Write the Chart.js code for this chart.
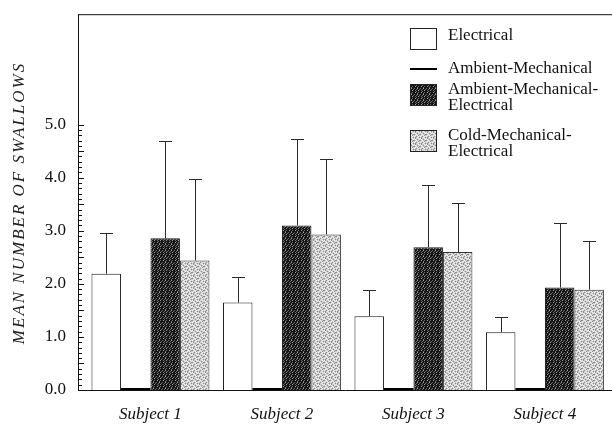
<!DOCTYPE html>
<html>
<head>
<meta charset="utf-8">
<script src="https://cdn.jsdelivr.net/npm/chart.js@4.4.0/dist/chart.umd.min.js"></script>
<style>
  html, body { margin: 0; padding: 0; background: #fff; }
</style>
</head>
<body>
<canvas id="chart" width="612" height="424"></canvas>
<script>
// ── Data ────────────────────────────────────────────────────────────────────
const categories = ['Subject 1', 'Subject 2', 'Subject 3', 'Subject 4'];
const seriesNames = ['Electrical', 'Ambient-Mechanical', 'Ambient-Mechanical-Electrical', 'Cold-Mechanical-Electrical'];
const legendLines = [['Electrical'], ['Ambient-Mechanical'], ['Ambient-Mechanical-', 'Electrical'], ['Cold-Mechanical-', 'Electrical']];

const electrical = [2.19, 1.65, 1.39, 1.09];
const electricalErr = [0.77, 0.48, 0.49, 0.28];
const ambientMech = [0.04, 0.04, 0.04, 0.04];
const ambientMechElec = [2.86, 3.10, 2.69, 1.93];
const ambientMechElecErr = [1.83, 1.63, 1.18, 1.22];
const coldMechElec = [2.44, 2.93, 2.60, 1.89];
const coldMechElecErr = [1.54, 1.43, 0.93, 0.91];

const yTicks = [0, 1, 2, 3, 4, 5];
const yTitle = 'MEAN NUMBER OF SWALLOWS';

const SERIF = "'Liberation Serif', 'DejaVu Serif', serif";

// ── Stipple fills ───────────────────────────────────────────────────────────
function makePattern(rows, colors) {
  const c = document.createElement('canvas');
  c.width = rows[0].length; c.height = rows.length;
  const g = c.getContext('2d');
  rows.forEach(function (row, y) {
    for (let x = 0; x < row.length; x++) {
      g.fillStyle = colors[row[x]];
      g.fillRect(x, y, 1, 1);
    }
  });
  return g.createPattern(c, 'repeat');
}

const darkFill = makePattern([
  '#+##.#',
  '##+###',
  '#.##+#',
  '###+##',
  '+##.##',
  '##+##+'
], { '#': '#141414', '+': '#6a6a6a', '.': '#a0a0a0' });

const lightFill = makePattern([
  'o-##o#',
  '#o#-#o',
  '-#o##-',
  '#o#o-#',
  'o#-#o#',
  '#-#o#-'
], { '#': '#cdcdcd', '-': '#8c8c8c', 'o': '#f2f2f2' });

function points(arr) {
  return arr.map(function (v, i) { return { x: i, y: v }; });
}

// ── Plugins ─────────────────────────────────────────────────────────────────
const errorBars = {
  id: 'errorBars',
  afterDatasetsDraw(chart) {
    const ctx = chart.ctx;
    const yScale = chart.scales.y;
    ctx.save();
    ctx.strokeStyle = '#2a2a2a';
    ctx.lineWidth = 1;
    chart.data.datasets.forEach(function (ds, di) {
      if (!ds.errors) return;
      chart.getDatasetMeta(di).data.forEach(function (bar, i) {
        const x = Math.round(bar.x) + 0.5;
        const yCap = Math.round(yScale.getPixelForValue(ds.data[i].y + ds.errors[i])) + 0.5;
        ctx.beginPath();
        ctx.moveTo(x, bar.y);
        ctx.lineTo(x, yCap);
        ctx.moveTo(x - 6.5, yCap);
        ctx.lineTo(x + 6.5, yCap);
        ctx.stroke();
      });
    });
    ctx.restore();
  }
};

const frame = {
  id: 'frame',
  afterDraw(chart) {
    const ctx = chart.ctx;
    const a = chart.chartArea;
    const y = chart.scales.y;
    ctx.save();
    ctx.strokeStyle = '#111';
    ctx.lineWidth = 1;
    // top border
    ctx.beginPath();
    ctx.moveTo(a.left, a.top + 0.5);
    ctx.lineTo(a.right, a.top + 0.5);
    ctx.stroke();
    // inward minor ticks, every 0.1 up to 5.0
    ctx.beginPath();
    for (let k = 0; k <= 50; k++) {
      const py = Math.round(y.getPixelForValue(k / 10)) + 0.5;
      const len = (k % 5 === 0) ? 6 : 4;
      ctx.moveTo(a.left, py);
      ctx.lineTo(a.left + len, py);
    }
    ctx.stroke();
    // spaced-out italic axis title
    ctx.translate(20, 204);
    ctx.rotate(-Math.PI / 2);
    ctx.fillStyle = '#222';
    ctx.font = 'italic 17px ' + SERIF;
    ctx.letterSpacing = '2px';
    ctx.textAlign = 'center';
    ctx.textBaseline = 'middle';
    ctx.fillText(yTitle, 1, 0);
    ctx.restore();
  }
};

const boxLegend = {
  id: 'boxLegend',
  afterDraw(chart) {
    const ctx = chart.ctx;
    const boxX = 410, boxW = 27, boxH = 22, textX = 448;
    const tops = [28, 69, 84, 130];
    const lineY = [[36], [69], [90, 105.5], [136, 152]];
    ctx.save();
    chart.data.datasets.forEach(function (ds, i) {
      if (i === 1) {
        ctx.fillStyle = '#000';
        ctx.fillRect(boxX, tops[i] - 1, boxW, 2);
      } else {
        ctx.fillStyle = ds.backgroundColor;
        ctx.fillRect(boxX, tops[i], boxW, boxH);
        ctx.strokeStyle = '#222';
        ctx.lineWidth = 1;
        ctx.strokeRect(boxX + 0.5, tops[i] + 0.5, boxW - 1, boxH - 1);
      }
      ctx.fillStyle = '#111';
      ctx.font = '17px ' + SERIF;
      ctx.textBaseline = 'middle';
      ctx.textAlign = 'left';
      legendLines[i].forEach(function (t, j) {
        ctx.fillText(t, textX, lineY[i][j]);
      });
    });
    ctx.restore();
  }
};

// ── Chart ───────────────────────────────────────────────────────────────────
new Chart(document.getElementById('chart'), {
  type: 'bar',
  data: {
    datasets: [
      { label: seriesNames[0], data: points(electrical), errors: electricalErr,
        backgroundColor: '#fff', borderColor: '#1a1a1a', borderWidth: 1 },
      { label: seriesNames[1], data: points(ambientMech),
        backgroundColor: '#000', borderColor: '#000', borderWidth: 0 },
      { label: seriesNames[2], data: points(ambientMechElec), errors: ambientMechElecErr,
        backgroundColor: darkFill, borderColor: '#1a1a1a', borderWidth: 1 },
      { label: seriesNames[3], data: points(coldMechElec), errors: coldMechElecErr,
        backgroundColor: lightFill, borderColor: '#333', borderWidth: 1 }
    ]
  },
  options: {
    responsive: false,
    animation: false,
    categoryPercentage: 0.897,
    barPercentage: 1.0,
    layout: { padding: { top: 10, right: 0, left: 0, bottom: 0 } },
    plugins: { legend: { display: false }, tooltip: { enabled: false } },
    scales: {
      x: {
        type: 'linear',
        offset: false,
        min: -0.551,
        max: 3.51,
        afterBuildTicks: function (s) { s.ticks = categories.map(function (_, i) { return { value: i }; }); },
        afterFit: function (s) { s.height = 34; },
        grid: { display: false },
        border: { color: '#111', width: 1 },
        ticks: {
          autoSkip: false, maxRotation: 0, padding: 6, color: '#111',
          font: { family: SERIF, size: 17, style: 'italic' },
          callback: function (v) { return categories[v]; }
        }
      },
      y: {
        min: 0,
        max: 7.08,
        afterBuildTicks: function (s) { s.ticks = yTicks.map(function (v) { return { value: v }; }); },
        afterFit: function (s) { s.width = 78; },
        grid: { display: false },
        border: { color: '#111', width: 1 },
        ticks: {
          padding: 4, color: '#111',
          font: { family: SERIF, size: 17 },
          callback: function (v) { return v.toFixed(1); }
        }
      }
    }
  },
  plugins: [errorBars, frame, boxLegend]
});
</script>
</body>
</html>
